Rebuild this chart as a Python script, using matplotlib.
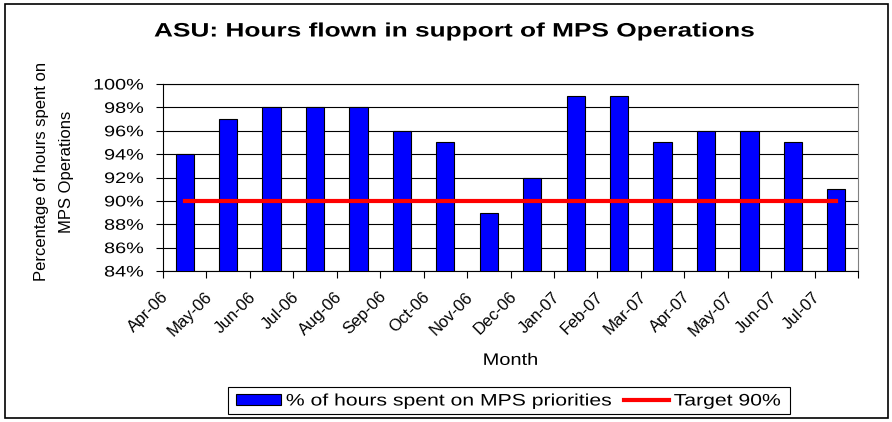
import matplotlib
matplotlib.use("Agg")
import matplotlib.pyplot as plt
import matplotlib.transforms as mtransforms
from matplotlib.patches import Rectangle
from matplotlib.patheffects import AbstractPathEffect
import numpy as np

plt.rcParams['font.family'] = ['Liberation Sans', 'DejaVu Sans']

# chart data
months = ['Apr-06', 'May-06', 'Jun-06', 'Jul-06', 'Aug-06', 'Sep-06', 'Oct-06', 'Nov-06',
          'Dec-06', 'Jan-07', 'Feb-07', 'Mar-07', 'Apr-07', 'May-07', 'Jun-07', 'Jul-07']
pct_mps = [94, 97, 98, 98, 98, 96, 95, 89, 92, 99, 99, 95, 96, 96, 95, 91]
target = [90] * len(months)
y_ticks = list(range(84, 101, 2))


class Stretch(AbstractPathEffect):
    """Widen text horizontally (the original uses a wide-set Arial)."""

    def __init__(self, sx, anchor='center'):
        super().__init__()
        self.sx = sx
        self.anchor = anchor

    def draw_path(self, renderer, gc, tpath, affine, rgbFace=None):
        ext = tpath.get_extents(affine)
        if self.anchor == 'left':
            cx = ext.x0
        elif self.anchor == 'right':
            cx = ext.x1
        else:
            cx = (ext.x0 + ext.x1) / 2
        aff = affine + mtransforms.Affine2D().translate(-cx, 0).scale(self.sx, 1).translate(cx, 0)
        renderer.draw_path(gc, tpath, aff, rgbFace)


fig = plt.figure(figsize=(8.92, 4.22), dpi=100)
ax = fig.add_axes([163 / 892, 1 - 271 / 422, (858 - 163) / 892, (271 - 84) / 422])

x = np.arange(len(months))
bars = ax.bar(x, pct_mps, width=0.42, color='#0000ff', edgecolor='black', linewidth=0.8,
              zorder=3, label='% of hours spent on MPS priorities')
line, = ax.plot(x, target, color='#ff0000', linewidth=3, zorder=4, label='Target 90%')

ax.set_ylim(84, 100)
ax.set_xlim(-0.5, len(months) - 0.5)
ax.set_yticks(y_ticks)
ax.set_yticklabels([f'{v}%' for v in y_ticks], fontsize=11)
ax.yaxis.grid(True, color='black', linewidth=0.8, zorder=0)
ax.tick_params(axis='y', length=5, width=0.8, direction='out', pad=9)
for lbl in ax.get_yticklabels():
    lbl.set_path_effects([Stretch(1.3, 'right')])

# labels at category centres, ticks at category boundaries
ax.set_xticks(x)
ax.set_xticklabels(months, rotation=45, ha='right', va='top', fontsize=12)
ax.tick_params(axis='x', which='major', length=0, pad=13)
ax.set_xticks(np.arange(-0.5, len(months), 1), minor=True)
ax.tick_params(axis='x', which='minor', length=5, width=0.8, direction='out')
shift = mtransforms.ScaledTranslation(-13 / 100, 0, fig.dpi_scale_trans)
for lbl in ax.get_xticklabels():
    lbl.set_transform(lbl.get_transform() + shift)

ax.spines['right'].set_color('#808080')
for side in ['top', 'left', 'bottom']:
    ax.spines[side].set_color('black')

xl = ax.set_xlabel('Month', fontsize=12, labelpad=10)
xl.set_path_effects([Stretch(1.2)])
ax.set_ylabel('Percentage of hours spent on\nMPS Operations', fontsize=12, linespacing=1.85)
ax.yaxis.set_label_coords(-0.128, 0.53)

title = fig.text(455 / 892, 1 - 32 / 422, 'ASU: Hours flown in support of MPS Operations',
                 ha='center', va='center', fontsize=14, fontweight='bold')
title.set_path_effects([Stretch(1.35)])

# legend: contents via fig.legend, frame drawn separately since the text is widened
leg = fig.legend(handles=[bars, line], loc='center left', bbox_to_anchor=(236 / 892, 1 - 401 / 422),
                 ncol=2, fontsize=12, frameon=False, handlelength=2.7, handleheight=0.65,
                 handletextpad=0.3, columnspacing=4.85, borderpad=0, borderaxespad=0)
for t in leg.get_texts():
    t.set_path_effects([Stretch(1.27, 'left')])
fig.patches.append(Rectangle((228 / 892, 1 - 414 / 422), (790 - 228) / 892, 27 / 422,
                             transform=fig.transFigure, fill=False, edgecolor='black', linewidth=0.8))

# outer chart border
fig.patches.append(Rectangle((5 / 892, 4 / 422), 883 / 892, 414 / 422, transform=fig.transFigure,
                             fill=False, edgecolor='black', linewidth=1.2))

fig.savefig('out.png', dpi=100)
